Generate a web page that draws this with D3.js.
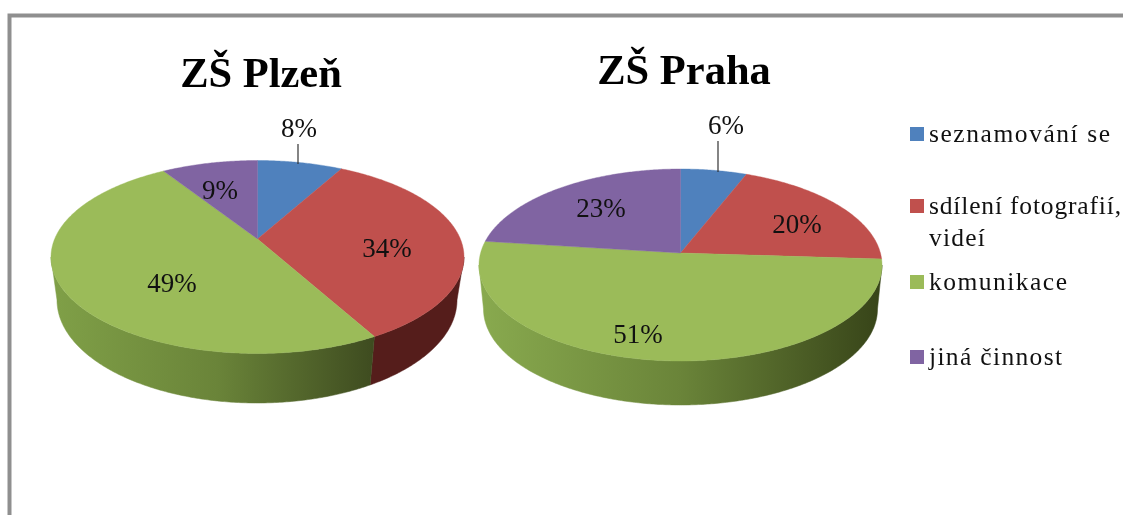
<!DOCTYPE html>
<html><head><meta charset="utf-8">
<script src="https://cdn.jsdelivr.net/npm/d3@7/dist/d3.min.js"></script>
<style>
html,body{margin:0;padding:0;background:#fff;overflow:hidden}
svg{display:block;filter:blur(0.55px)}
text{font-family:"Liberation Serif",serif;fill:#111}
</style></head><body>
<svg id="c" width="1123" height="515"></svg>
<script>
const categories = ["seznamování se", "sdílení fotografií,", "komunikace", "jiná činnost"];
const plzenValues = [8, 34, 49, 9];
const prahaValues = [6, 20, 51, 23];
const chartTitles = ["ZŠ Plzeň", "ZŠ Praha"];
const topColors = ["#4f81bd", "#c0504d", "#9bbb59", "#8064a2"];

const layouts = [
  {values: plzenValues, title: chartTitles[0], titleX: 261, titleY: 87,
   cx: 257.5, cy: 257, rx: 206.5, ry: 96.5, a: -0.187,
   bcx: 257, bcy: 300, brx: 200, bry: 103,
   labels: [[299,128],[387,248],[172,283],[220,190]], leader: [298,144,298,164],
   gx: [57, 378], greenStops:["#7f9f47","#3d4a1f"]},
  {values: prahaValues, title: chartTitles[1], titleX: 684, titleY: 84,
   cx: 680.5, cy: 265, rx: 201.5, ry: 96, a: -0.125,
   bcx: 680.5, bcy: 309, brx: 197, bry: 96,
   labels: [[726,125],[797,224],[638,334],[601,208]], leader: [718,141,718,172],
   gx: [484, 878], greenStops:["#88a94e","#384519"]}
];

const svg = d3.select("#c");
const defs = svg.append("defs");
const line = d3.line().curve(d3.curveLinear);
const pie = d3.pie().sort(null).value(d => d);

// frame
svg.append("path").attr("d", "M9.5,515V15.5H1123").attr("fill","none").attr("stroke","#8f8f8f").attr("stroke-width",4);

function project(t, cx, cy, rx, ry, a){
  const u = Math.sin(t), v = -Math.cos(t);
  const d = 1 + a*v;
  return [cx + rx*u*Math.sqrt(1-a*a)/d, cy + ry*(v+a)/d];
}
function samples(a0, a1){
  const n = Math.max(2, Math.ceil(Math.abs(a1-a0)/0.01));
  return d3.range(n+1).map(i => a0 + (a1-a0)*i/n);
}

layouts.forEach((L, li) => {
  const arcs = pie(L.values);
  const top = t => project(t, L.cx, L.cy, L.rx, L.ry, L.a);
  const bot = t => project(t, L.bcx, L.bcy, L.brx, L.bry, L.a);
  const tMin = Math.acos(L.a);                 // right silhouette
  const tMax = 2*Math.PI - tMin;               // left silhouette

  const gid = "g"+li;
  const g = defs.append("linearGradient").attr("id",gid).attr("gradientUnits","userSpaceOnUse")
    .attr("x1",L.gx[0]).attr("x2",L.gx[1]).attr("y1",0).attr("y2",0);
  g.append("stop").attr("offset",0).attr("stop-color",L.greenStops[0]);
  g.append("stop").attr("offset",0.5).attr("stop-color","#6a8439");
  g.append("stop").attr("offset",1).attr("stop-color",L.greenStops[1]);

  const sideFill = i => i === 2 ? `url(#${gid})` : i === 1 ? "#551d1b" : d3.color(topColors[i]).darker(1.2);

  // side walls
  arcs.forEach((s,i) => {
    const a0 = Math.max(s.startAngle, tMin), a1 = Math.min(s.endAngle, tMax);
    if (a1 <= a0) return;
    const ts = samples(a0, a1);
    const pts = ts.map(top).concat(ts.slice().reverse().map(bot));
    svg.append("path").attr("d", line(pts)+"Z").attr("fill", sideFill(i)).attr("stroke", sideFill(i)).attr("stroke-width",0.5);
  });

  // top faces
  arcs.forEach((s,i) => {
    const apex = [L.cx, L.cy + L.ry*L.a];
    const poly = [apex].concat(samples(s.startAngle, s.endAngle).map(top));
    svg.append("path").attr("d", line(poly)+"Z").attr("fill", topColors[i]).attr("stroke", topColors[i]).attr("stroke-width",0.4);
  });

  // title
  svg.append("text").attr("x",L.titleX).attr("y",L.titleY).attr("text-anchor","middle")
    .attr("font-size",42.5).attr("font-weight","bold").style("fill","#000").text(L.title);

  // leader + labels
  svg.append("line").attr("x1",L.leader[0]).attr("y1",L.leader[1]).attr("x2",L.leader[2]).attr("y2",L.leader[3])
    .attr("stroke","#333").attr("stroke-width",1.2);
  L.values.forEach((v,i) => {
    svg.append("text").attr("x",L.labels[i][0]).attr("y",L.labels[i][1]).attr("dy","0.35em").attr("text-anchor","middle")
      .attr("font-size",27).text(d3.format("d")(v)+"%");
  });
});

// legend
const legendY = [134, 206, 282, 357];
const legendWidths = [181, 192, 138, 133];
categories.forEach((c,i) => {
  svg.append("rect").attr("x",910).attr("y",legendY[i]-7).attr("width",14).attr("height",14).attr("fill",topColors[i]);
  svg.append("text").attr("x",929).attr("y",legendY[i]).attr("dy","0.33em").attr("font-size",25.5)
    .attr("textLength",legendWidths[i]).attr("lengthAdjust","spacing").text(c);
});
svg.append("text").attr("x",929).attr("y",238).attr("dy","0.33em").attr("font-size",25.5).attr("letter-spacing",1.2).text("videí");
</script>
</body></html>
